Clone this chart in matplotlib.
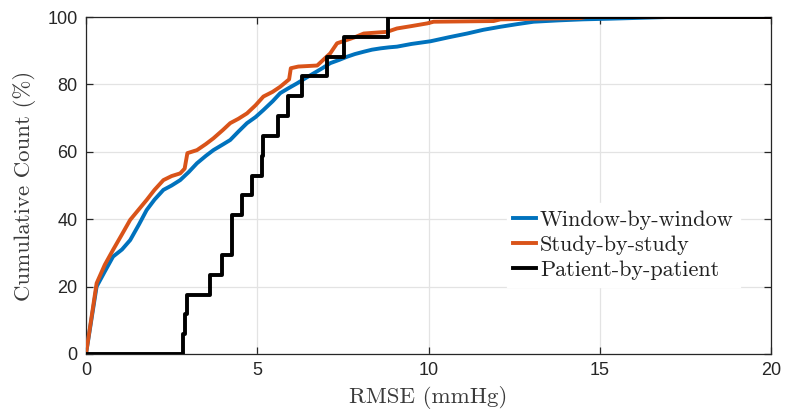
import numpy as np
import matplotlib
matplotlib.use("Agg")
import matplotlib.pyplot as plt

# Window-by-window (blue)
win_x = [0.0, 0.31, 0.55, 0.79, 1.05, 1.29, 1.55, 1.77, 2.0, 2.26, 2.5, 2.75, 3.0, 3.24, 3.5, 3.72, 4.0,
         4.21, 4.45, 4.7, 4.95, 5.18, 5.45, 5.67, 5.9, 6.16, 6.4, 6.65, 6.9, 7.13, 7.4, 7.62, 7.85,
         8.11, 8.35, 8.6, 8.85, 9.08, 9.5, 10.06, 10.6, 11.13, 11.6, 12.1, 12.6, 13.07, 13.8, 14.5,
         15.3, 16.0, 17.0, 18.0, 20.0]
win_y = [0.0, 20.0, 24.5, 28.9, 31.0, 33.8, 38.5, 42.7, 45.8, 48.7, 50.0, 51.6, 54.0, 56.6, 58.8, 60.5, 62.2,
         63.5, 66.0, 68.5, 70.3, 72.4, 75.0, 77.4, 78.8, 80.3, 81.8, 83.3, 84.8, 86.3, 87.3, 88.2, 89.0,
         89.7, 90.3, 90.7, 91.0, 91.2, 92.0, 92.8, 94.0, 95.1, 96.2, 97.1, 97.9, 98.6, 99.0, 99.3,
         99.5, 99.7, 100.0, 100.0, 100.0]

# Study-by-study (orange)
study_x = [0.0, 0.31, 0.55, 0.79, 1.05, 1.29, 1.55, 1.77, 2.0, 2.26, 2.5, 2.75, 2.88, 2.96, 3.24, 3.5,
           3.72, 4.0, 4.21, 4.45, 4.7, 4.95, 5.18, 5.45, 5.67, 5.93, 5.98, 6.2, 6.75, 6.95, 7.13, 7.33,
           7.62, 7.85, 8.11, 8.79, 9.08, 9.5, 9.96, 10.15, 11.9, 12.1, 14.44, 14.6, 20.0]
study_y = [0.0, 21.0, 26.5, 30.9, 35.5, 39.8, 43.0, 45.7, 48.7, 51.6, 52.8, 53.6, 55.0, 59.6, 60.5, 62.3,
           64.0, 66.5, 68.5, 69.8, 71.4, 73.8, 76.4, 77.8, 79.3, 81.5, 84.8, 85.3, 85.6, 87.5, 89.2, 92.2,
           93.2, 94.0, 95.1, 95.6, 96.6, 97.3, 98.1, 98.6, 98.8, 99.3, 99.7, 100.0, 100.0]

# Patient-by-patient (black): per-patient RMSE values
patient_rmse = [2.82, 2.88, 2.95, 3.62, 3.97, 4.25, 4.27, 4.55, 4.85, 5.14, 5.16,
                5.6, 5.9, 6.3, 7.04, 7.52, 8.83]

labels = ["Window-by-window", "Study-by-study", "Patient-by-patient"]
colors = ["#0072BD", "#D95319", "#000000"]

plt.rcParams['axes.unicode_minus'] = False

fig = plt.figure(figsize=(7.87, 4.18), dpi=100)
ax = fig.add_axes([86/787, 1-354/418, (771-86)/787, (354-17)/418])

lw = 2.8
ax.plot(win_x, win_y, color=colors[0], lw=lw, label=labels[0], zorder=3)
ax.plot(study_x, study_y, color=colors[1], lw=lw, label=labels[1], zorder=4)

p = np.sort(np.array(patient_rmse))
n = len(p)
px = np.concatenate([[0.0], p, [20.0]])
py = np.concatenate([[0.0], np.arange(1, n + 1) / n * 100, [100.0]])
ax.step(px, py, where='post', color=colors[2], lw=lw, label=labels[2], zorder=5)

ax.set_xlim(0, 20)
ax.set_ylim(0, 100)
ax.set_xticks([0, 5, 10, 15, 20])
ax.set_yticks([0, 20, 40, 60, 80, 100])
ax.grid(True, color='#e3e3e3', lw=0.9)
ax.set_axisbelow(True)
for s in ax.spines.values():
    s.set_color('#262626')
    s.set_linewidth(0.9)
ax.tick_params(direction='in', top=True, right=True, length=5, width=0.9,
               color='#262626', labelcolor='#262626', labelsize=13, pad=6)
for t in ax.get_xticklabels() + ax.get_yticklabels():
    t.set_fontfamily('Liberation Sans')

ax.set_xlabel("RMSE (mmHg)", family='cmr10', fontsize=16.5, color='#3a3a3a', labelpad=5)
ax.set_ylabel("Cumulative Count (%)", family='cmr10', fontsize=16.5, color='#3a3a3a', labelpad=8)

leg = ax.legend(loc='center left', bbox_to_anchor=(0.598, 0.323), prop={'family': 'cmr10', 'size': 16},
                handlelength=1.0, handletextpad=0.2, labelspacing=0.26, borderpad=0.3,
                frameon=True, fancybox=False, edgecolor='white', framealpha=1.0)
for t in leg.get_texts():
    t.set_color('#222222')

fig.savefig("out.png", dpi=100)
